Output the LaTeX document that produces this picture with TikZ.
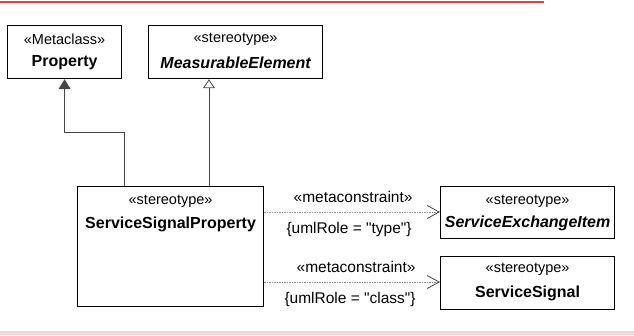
\documentclass[tikz,border=0pt]{standalone}
\usepackage{fontspec}
\setmainfont{Liberation Sans}[Ligatures=TeXOff]
\usepackage{xcolor}
\usetikzlibrary{positioning,calc,arrows.meta}

\definecolor{linegray}{RGB}{70,70,70}
\definecolor{dashgray}{RGB}{140,140,140}
\definecolor{topred}{RGB}{228,60,72}
\definecolor{bandpink}{RGB}{245,214,218}

\tikzset{
  umlbox/.style={draw=black, line width=1.2pt, fill=white, anchor=north west, inner sep=0pt},
  stereotxt/.style={font=\fontsize{14.5}{16}\selectfont, inner sep=0pt},
  nametxt/.style={font=\fontsize{16}{18}\selectfont\bfseries, inner sep=0pt},
  abstxt/.style={font=\fontsize{16}{18}\selectfont\bfseries\itshape, inner sep=0pt},
  gen/.style={draw=linegray, line width=0.8pt},
  metaline/.style={draw=dashgray, line width=0.8pt, dash pattern=on 1.5pt off 1pt,
    -{Straight Barb[length=12pt,width=13pt,line width=0.8pt,color=linegray]}},
  metatxt/.style={font=\fontsize{15.5}{17}\selectfont, inner sep=0pt}
}

\begin{document}
\begin{tikzpicture}[x=1pt,y=-1pt]
  \useasboundingbox (0,0) rectangle (634,335);
  % page edges
  \fill[bandpink] (0,331) rectangle (634,335);
  \draw[topred, line width=1.5pt] (0,2) -- (544,2);

  % upper classes
  \node[umlbox, minimum width=114pt, minimum height=53pt] (prop) at (7,25) {};
  \node[stereotxt] at ($(prop.north)+(0,14)$) {«Metaclass»};
  \node[nametxt] at ($(prop.north)+(0,38)$) {Property};

  \node[umlbox, minimum width=174pt, minimum height=53pt] (meas) at (148,25) {};
  \node[stereotxt] at ($(meas.north)+(0,14)$) {«stereotype»};
  \node[abstxt] at ($(meas.north)+(0,38)$) {MeasurableElement};

  % the stereotype
  \node[umlbox, minimum width=186pt, minimum height=120pt] (ssp) at (77,186) {};
  \node[stereotxt] at ($(ssp.north)+(0,15)$) {«stereotype»};
  \node[nametxt] at ($(ssp.north)+(0,38)$) {ServiceSignalProperty};

  % right classes
  \node[umlbox, minimum width=174pt, minimum height=52pt] (sei) at (440,186) {};
  \node[stereotxt] at ($(sei.north)+(0,15)$) {«stereotype»};
  \node[abstxt] at ($(sei.north)+(0,37)$) {ServiceExchangeItem};

  \node[umlbox, minimum width=174pt, minimum height=53pt] (ssig) at (440,256) {};
  \node[stereotxt] at ($(ssig.north)+(0,13)$) {«stereotype»};
  \node[nametxt] at ($(ssig.north)+(0,37)$) {ServiceSignal};

  % generalizations
  \coordinate (bendA) at ($(ssp.north west)+(47,-54)$);
  \draw[gen, -{Triangle[length=10pt,width=12pt,fill=linegray]}]
    ($(ssp.north west)+(47,0)$) -- (bendA) -| (prop.south);
  \draw[gen, -{Triangle[open,length=9pt,width=12pt,fill=white]}]
    ($(ssp.north west)+(132,0)$) -- ($(meas.south west)+(61,0)$);

  % metaconstraints
  \draw[metaline] ($(ssp.north east)+(0,26)$) -- node[metatxt, above=9pt, xshift=1pt] {«metaconstraint»}
    node[metatxt, below=10pt, xshift=-3pt] {\{umlRole = "type"\}} ($(sei.north west)+(0,26)$);
  \draw[metaline] ($(ssp.north east)+(0,96)$) -- node[metatxt, above=9pt, xshift=4pt] {«metaconstraint»}
    node[metatxt, below=10pt, xshift=-2pt] {\{umlRole = "class"\}} ($(ssig.north west)+(0,26)$);
\end{tikzpicture}
\end{document}
